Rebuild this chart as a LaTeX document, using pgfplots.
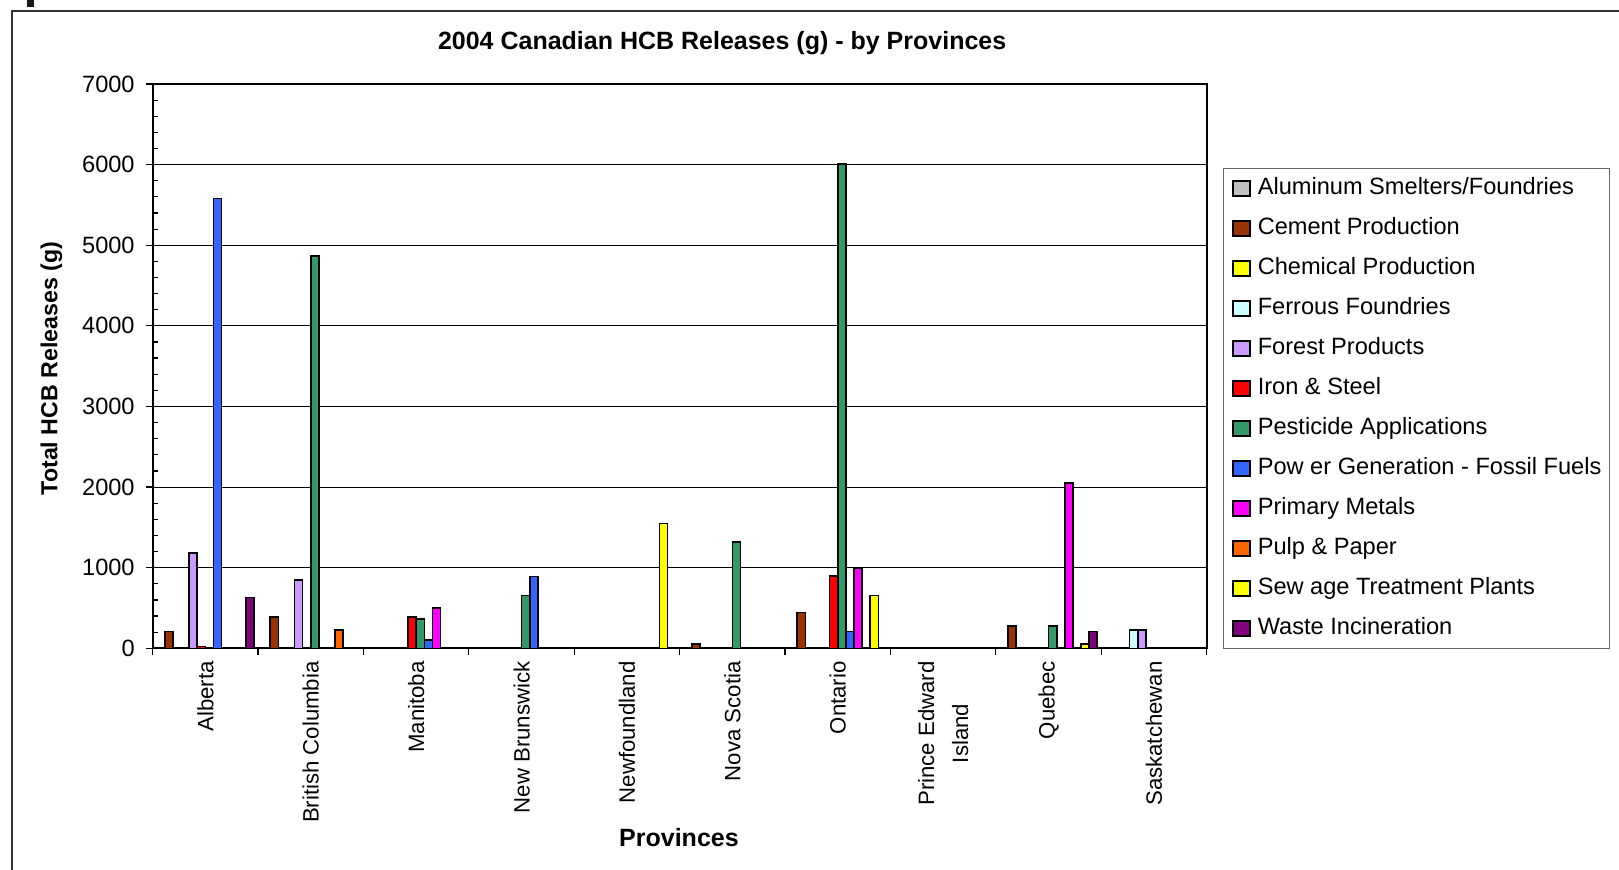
\documentclass[border=0pt]{standalone}
\usepackage{fontspec}
\setmainfont{Liberation Sans}
\usepackage{pgfplots}
\pgfplotsset{compat=1.18}
\definecolor{cAlu}{HTML}{C0C0C0}
\definecolor{cCem}{HTML}{993300}
\definecolor{cChe}{HTML}{FFFF00}
\definecolor{cFer}{HTML}{CCFFFF}
\definecolor{cFor}{HTML}{CC99FF}
\definecolor{cIro}{HTML}{FF0000}
\definecolor{cPes}{HTML}{339966}
\definecolor{cPow}{HTML}{3366FF}
\definecolor{cPri}{HTML}{FF00FF}
\definecolor{cPul}{HTML}{FF6600}
\definecolor{cSew}{HTML}{FFFF00}
\definecolor{cWas}{HTML}{800080}
\begin{document}
\begin{tikzpicture}
\useasboundingbox (0,0) rectangle (809.5pt,434.5pt);
\fill[white] (0,0) rectangle (809.5pt,434.5pt);
\draw[line width=1pt, black!80] (5.75pt,-5pt) -- (5.75pt,429pt) -- (815pt,429pt);
\fill[black!90] (13.5pt,431pt) rectangle (17pt,436pt);
\begin{axis}[
  at={(76.35pt,110.35pt)}, anchor=south west,
  width=527pt, height=282.15pt, scale only axis,
  xmin=-0.5, xmax=9.5, ymin=0, ymax=7000,
  axis line style={line width=0.9pt},
  xtick pos=bottom, ytick pos=left,
  xtick={-0.5,0.5,...,9.5}, xticklabels={},
  extra x ticks={0,1,...,9},
  extra x tick labels={Alberta, British Columbia, Manitoba, New Brunswick, Newfoundland, Nova Scotia, Ontario, {Prince Edward\\Island}, Quebec, Saskatchewan},
  extra x tick style={major tick length=0pt, grid=none,
    tick label style={rotate=90, anchor=east, align=center, font=\fontsize{11.1}{17}\selectfont}},
  xticklabel shift=3pt,
  yticklabel shift=2pt,
  ytick={0,1000,...,7000},
  minor y tick num=4,
  tick align=outside,
  major tick length=3.5pt, minor tick length=2.5pt,
  tick style={black, line width=0.6pt},
  minor tick style={xshift=2.5pt},
  ymajorgrids, major grid style={black, line width=0.5pt},
  yticklabel style={font=\fontsize{11.8}{14}\selectfont},
  /pgf/number format/assume math mode=true,
  /pgf/number format/1000 sep={},
  ylabel={Total HCB Releases (g)},
  ylabel style={at={(axis description cs:-0.0961,0.4957)}, anchor=center, font=\bfseries\fontsize{11.6}{14}\selectfont},
  xlabel={Provinces},
  xlabel style={at={(axis description cs:0.4993,-0.3362)}, anchor=center, font=\bfseries\fontsize{12.5}{15}\selectfont},
  title={2004 Canadian HCB Releases (g) - by Provinces},
  title style={at={(axis description cs:0.5403,1.051)}, anchor=center, font=\bfseries\fontsize{12.5}{15}\selectfont},
  legend cell align=left,
  legend style={at={(axis description cs:1.01594,0.85114)}, anchor=north west,
    draw=black!60, line width=0.5pt, inner xsep=4.2pt, inner ysep=5pt,
    row sep=10pt, column sep=3.5pt,
    font=\fontsize{11.8}{14}\selectfont,
    nodes={inner sep=0pt, text height=8pt, text depth=2pt}},
  legend image code/.code={\draw[#1, draw=black, line width=0.7pt] (0pt,-3.75pt) rectangle (8.5pt,3.75pt);},
  every axis plot/.append style={ybar, bar width=0.076923, draw=black, line width=0.8pt},
]
\addlegendimage{fill=cAlu}\addlegendentry{Aluminum Smelters/Foundries}
\addplot[fill=cCem, bar shift=-0.34615] coordinates {(0,210) (1,390) (5,50) (6,445) (8,280)};
\addlegendentry{Cement Production}
\addlegendimage{fill=cChe}\addlegendentry{Chemical Production}
\addplot[fill=cFer, bar shift=-0.19231] coordinates {(9,230)};
\addlegendentry{Ferrous Foundries}
\addplot[fill=cFor, bar shift=-0.11538] coordinates {(0,1180) (1,845) (9,230)};
\addlegendentry{Forest Products}
\addplot[fill=cIro, bar shift=-0.03846] coordinates {(0,20) (2,390) (6,895)};
\addlegendentry{Iron \& Steel}
\addplot[fill=cPes, bar shift=0.03846] coordinates {(1,4870) (2,360) (3,655) (5,1320) (6,6010) (8,280)};
\addlegendentry{Pesticide Applications}
\addplot[fill=cPow, bar shift=0.11538] coordinates {(0,5580) (2,100) (3,890) (6,210)};
\addlegendentry{Pow er Generation - Fossil Fuels}
\addplot[fill=cPri, bar shift=0.19231] coordinates {(2,500) (6,990) (8,2050)};
\addlegendentry{Primary Metals}
\addplot[fill=cPul, bar shift=0.26923] coordinates {(1,230)};
\addlegendentry{Pulp \& Paper}
\addplot[fill=cSew, bar shift=0.34615] coordinates {(4,1550) (6,655) (8,50)};
\addlegendentry{Sew age Treatment Plants}
\addplot[fill=cWas, bar shift=0.42308] coordinates {(0,630) (8,210)};
\addlegendentry{Waste Incineration}
\end{axis}
\end{tikzpicture}
\end{document}
